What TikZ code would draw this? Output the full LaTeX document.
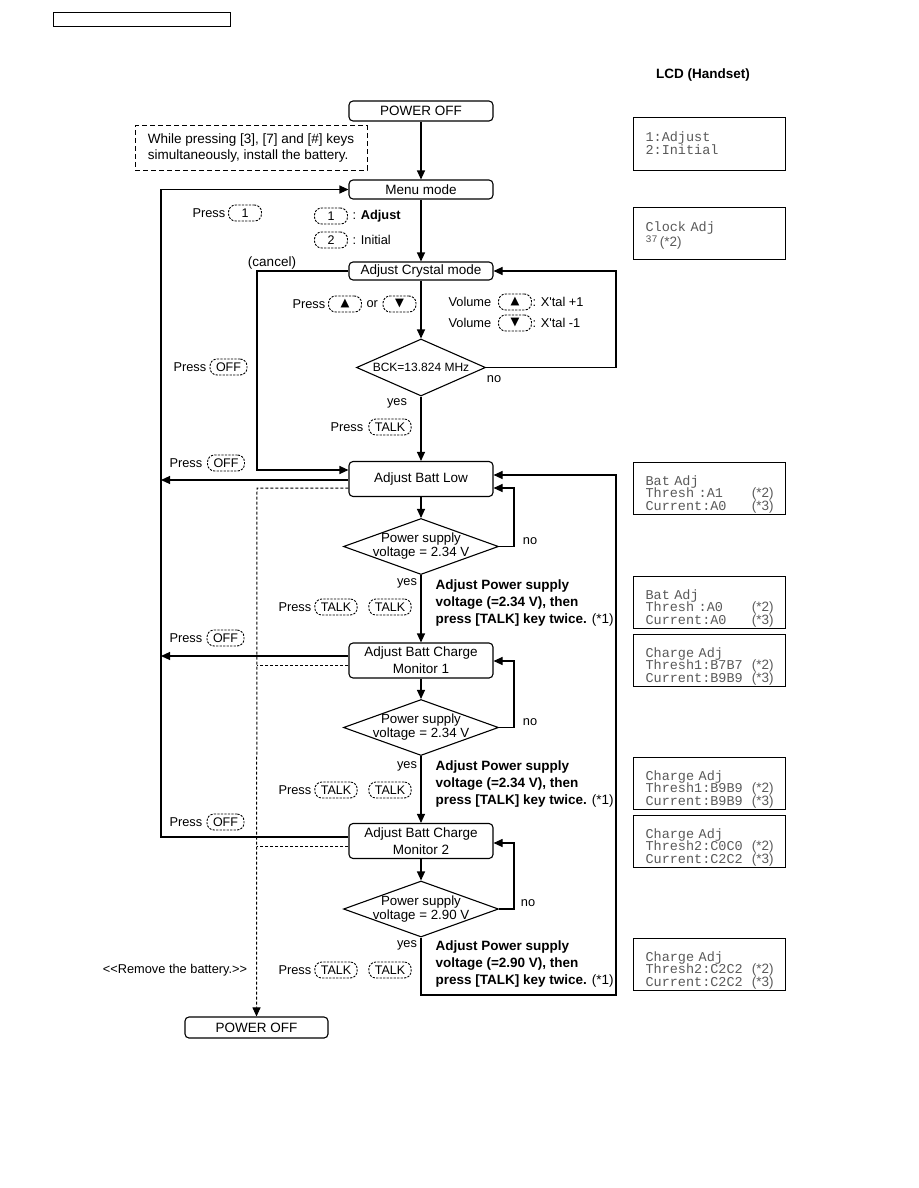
\documentclass[tikz,border=0pt]{standalone}
\usepackage{fontspec}
\setmainfont{Liberation Sans}
\setmonofont{Liberation Mono}
\newfontfamily\symfont{DejaVu Sans}
\usetikzlibrary{arrows.meta,shapes.geometric}
\newcommand\pushright{\hspace{0pt plus 1filll}}
\newcommand\trisym[1]{{\symfont\fontsize{11.5}{11.5}\selectfont #1}}
\newcommand\tightls{\lineskiplimit-20pt\relax}
\begin{document}
\begin{tikzpicture}[x=1pt,y=-1pt,line width=1.1pt,
  font=\fontsize{13.5}{15}\selectfont,
  arr/.style={-{Triangle[length=9pt,width=8pt]}},
  box/.style={draw,rounded corners=4pt,minimum width=144pt,inner sep=0pt,align=center,font=\fontsize{13.5}{17}\selectfont},
  dia/.style={draw,diamond,inner sep=0pt},
  keyd/.style={draw,dash pattern=on 2.2pt off 1.3pt,line width=0.9pt,rounded corners=7pt,inner xsep=6pt,inner ysep=0pt,minimum width=33pt,minimum height=16pt,font=\fontsize{12.5}{14}\selectfont},
  lab/.style={inner sep=0pt,font=\fontsize{12.8}{15}\selectfont},
  bnote/.style={inner sep=0pt,anchor=west,align=left,font=\fontsize{13.5}{17}\selectfont},
  lcd/.style={draw,line width=1pt,minimum width=152pt,minimum height=52pt,inner sep=0pt},
  lcdtxt/.style={anchor=north west,inner sep=0pt,align=left,text width=128pt,text=black!65,font=\fontsize{13.5}{12.6}\ttfamily,execute at begin node=\tightls},
  dsh/.style={dash pattern=on 3pt off 2pt,line width=1pt},
  dlab/.style={align=center,font=\fontsize{13.3}{14}\selectfont}]
\useasboundingbox (0,0) rectangle (918,1188);

% header
\node[draw,line width=1pt,minimum width=177pt,minimum height=14pt,inner sep=0pt] (hdr) at (141.5,20) {};
\node[inner sep=0pt,font=\fontsize{13.5}{15}\selectfont\bfseries] (lcdt) at (703,75) {LCD (Handset)};

% main flow
\node[box,minimum height=20pt] (poff1) at (421,111) {POWER OFF};
\node[draw,dash pattern=on 5pt off 3pt,line width=1pt,minimum width=232pt,minimum height=44pt,align=left,font=\fontsize{13.5}{16}\selectfont] (note) at (251,148) {While pressing [3], [7] and [\#] keys\\simultaneously, install the battery.};
\node[box,minimum height=19pt] (menu) at (421,189.5) {Menu mode};
\node[box,minimum height=18pt] (crys) at (421,271) {Adjust Crystal mode};
\node[dia,minimum width=129pt,minimum height=57pt,label={[font=\fontsize{12}{14}\selectfont]center:BCK=13.824 MHz}] (d1) at (421,367.5) {};
\node[box,minimum height=35pt] (bl) at (421,479) {Adjust Batt Low};
\node[dia,minimum width=155pt,minimum height=56pt,label={[dlab]center:Power supply\\voltage = 2.34 V}] (d2) at (421,546.5) {};
\node[box,minimum height=35pt] (m1) at (421,660.5) {Adjust Batt Charge\\Monitor 1};
\node[dia,minimum width=155pt,minimum height=56pt,label={[dlab]center:Power supply\\voltage = 2.34 V}] (d3) at (421,727.5) {};
\node[box,minimum height=35pt] (m2) at (421,841) {Adjust Batt Charge\\Monitor 2};
\node[dia,minimum width=155pt,minimum height=56pt,label={[dlab]center:Power supply\\voltage = 2.90 V}] (d4) at (421,909) {};
\node[box,minimum width=143pt,minimum height=21pt] (poff2) at (256.5,1027.5) {POWER OFF};

% labels
\node[lab,anchor=west] (pr1) at (192,213) {Press};
\node[keyd] (k1) at (245,213) {1};
\node[keyd] (ka) at (331,216) {1};
\node[lab,anchor=west] (ta) at (352,216) {: \textbf{Adjust}};
\node[keyd] (kb) at (331,240) {2};
\node[lab,anchor=west] (tb) at (352,240) {: Initial};
\node[lab,font=\fontsize{13.5}{15}\selectfont] (cancel) at (272,263) {(cancel)};

\node[lab,anchor=west] (pr2) at (292,304) {Press};
\node[keyd] (kup) at (345,304) {\trisym{▲}};
\node[lab,anchor=west] (or) at (366,304) {or};
\node[keyd] (kdn) at (399.5,304) {\trisym{▼}};
\node[lab,anchor=west] (v1) at (448,302) {Volume};
\node[keyd] (kv1) at (515,302) {\trisym{▲}};
\node[lab,anchor=west] (x1) at (532,302) {: X\textquotesingle tal +1};
\node[lab,anchor=west] (v2) at (448,323) {Volume};
\node[keyd] (kv2) at (515,323) {\trisym{▼}};
\node[lab,anchor=west] (x2) at (532,323) {: X\textquotesingle tal -1};

\node[lab,anchor=west] (pr3) at (173,367) {Press};
\node[keyd] (koff1) at (228.5,367) {OFF};
\node[lab] (no1) at (494,379) {no};
\node[lab] (yes1) at (397,403) {yes};
\node[lab,anchor=west] (pr4) at (330,427) {Press};
\node[keyd] (kt1) at (390,427) {TALK};
\node[lab,anchor=west] (pr5) at (169,463) {Press};
\node[keyd] (koff2) at (226,463) {OFF};

\node[lab] (no2) at (530,541) {no};
\node[lab] (yes2) at (407,583) {yes};
\node[lab,anchor=west] (pr6) at (278,607) {Press};
\node[keyd] (kt2) at (336,607) {TALK};
\node[keyd] (kt3) at (390,607) {TALK};
\node[bnote] (adj1) at (435,603) {\textbf{Adjust Power supply}\\\textbf{voltage (=2.34 V), then}\\\textbf{press [TALK] key twice.} (*1)};
\node[lab,anchor=west] (pr7) at (169,638) {Press};
\node[keyd] (koff3) at (225.5,638) {OFF};

\node[lab] (no3) at (530,722) {no};
\node[lab] (yes3) at (407,766) {yes};
\node[lab,anchor=west] (pr8) at (278,790) {Press};
\node[keyd] (kt4) at (336,790) {TALK};
\node[keyd] (kt5) at (390,790) {TALK};
\node[bnote] (adj2) at (435,784) {\textbf{Adjust Power supply}\\\textbf{voltage (=2.34 V), then}\\\textbf{press [TALK] key twice.} (*1)};
\node[lab,anchor=west] (pr9) at (169,822) {Press};
\node[keyd] (koff4) at (225.5,822) {OFF};

\node[lab] (no4) at (528,903) {no};
\node[lab] (yes4) at (407,945) {yes};
\node[lab,anchor=west] (pr10) at (278,970) {Press};
\node[keyd] (kt6) at (336,970) {TALK};
\node[keyd] (kt7) at (390,970) {TALK};
\node[bnote] (adj3) at (435,964) {\textbf{Adjust Power supply}\\\textbf{voltage (=2.90 V), then}\\\textbf{press [TALK] key twice.} (*1)};
\node[lab] (remove) at (175,970) {<{}<Remove the battery.>{}>};

% coordinates
\coordinate (ltop) at (161,189.5);
\coordinate (lbot) at (161,837);
\coordinate (cx) at (257,271);
\coordinate (rx) at (616,271);
\coordinate (nx) at (514,0);
\coordinate (bb) at (421,995);
\coordinate (rb) at (616,995);

% main arrows
\draw[arr] (poff1) -- (menu);
\draw[arr] (menu) -- (crys);
\draw[arr] (crys) -- (d1);
\draw[arr] (d1) -- (bl);
\draw[arr] (bl) -- (d2);
\draw[arr] (d2) -- (m1);
\draw[arr] (m1) -- (d3);
\draw[arr] (d3) -- (m2);
\draw[arr] (m2) -- (d4);

% left loop
\draw[arr] (m2.west |- lbot) -- (lbot) -- (ltop) -- (menu.west);
\draw[arr] (bl.west |- 0,480) -- (lbot |- 0,480);
\draw[arr] (m1.west |- 0,656) -- (lbot |- 0,656);

% cancel
\draw[arr] (crys.west) -- (cx) -- (cx |- 0,470) -- (bl.west |- 0,470);

% battery removal (dashed)
\draw[dsh,arr] (bl.west |- 0,488) -- (cx |- 0,488) -- (poff2.north);
\draw[dsh] (m1.west |- 0,665) -- (cx |- 0,665);
\draw[dsh] (m2.west |- 0,846) -- (cx |- 0,846);

% right loops
\draw[arr] (d1.east) -- (rx |- d1.east) -- (rx) -- (crys.east);
\draw[arr] (d2.east) -- (nx |- d2.east) -- (nx |- 0,488) -- (bl.east |- 0,488);
\draw[arr] (d3.east) -- (nx |- d3.east) -- (nx |- 0,661) -- (m1.east |- 0,661);
\draw[arr] (d4.east) -- (nx |- d4.east) -- (nx |- 0,843) -- (m2.east |- 0,843);
\draw[arr] (d4.south) -- (bb) -- (rb) -- (rb |- 0,475) -- (bl.east |- 0,475);

% LCD panels
\node[lcd] (l1) at (709,144) {};
\node[lcdtxt] (t1) at (645,131.5) {1:Adjust\\2:Initial};
\node[lcd] (l2) at (709,233) {};
\node[lcdtxt,font=\fontsize{13.5}{15.5}\ttfamily] (t2) at (645,221) {Clock Adj\\{\fontsize{10}{10}\selectfont\raisebox{4pt}{37}}\,{\rmfamily\fontsize{13.5}{15.5}\selectfont (*2)}};
\node[lcd] (l3) at (709,488) {};
\node[lcdtxt] (t3) at (645,475) {Bat Adj\\Thresh :A1\pushright{\rmfamily(*2)}\\Current:A0\pushright{\rmfamily(*3)}};
\node[lcd] (l4) at (709,602) {};
\node[lcdtxt] (t4) at (645,589) {Bat Adj\\Thresh :A0\pushright{\rmfamily(*2)}\\Current:A0\pushright{\rmfamily(*3)}};
\node[lcd] (l5) at (709,660) {};
\node[lcdtxt] (t5) at (645,647) {Charge Adj\\Thresh1:B7B7\pushright{\rmfamily(*2)}\\Current:B9B9\pushright{\rmfamily(*3)}};
\node[lcd] (l6) at (709,783) {};
\node[lcdtxt] (t6) at (645,770) {Charge Adj\\Thresh1:B9B9\pushright{\rmfamily(*2)}\\Current:B9B9\pushright{\rmfamily(*3)}};
\node[lcd] (l7) at (709,841) {};
\node[lcdtxt] (t7) at (645,828) {Charge Adj\\Thresh2:C0C0\pushright{\rmfamily(*2)}\\Current:C2C2\pushright{\rmfamily(*3)}};
\node[lcd] (l8) at (709,964) {};
\node[lcdtxt] (t8) at (645,951) {Charge Adj\\Thresh2:C2C2\pushright{\rmfamily(*2)}\\Current:C2C2\pushright{\rmfamily(*3)}};
\end{tikzpicture}
\end{document}
